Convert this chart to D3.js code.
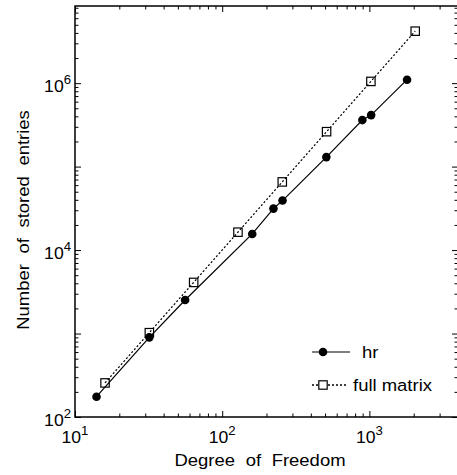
<!DOCTYPE html>
<html>
<head>
<meta charset="utf-8">
<script src="https://cdn.jsdelivr.net/npm/d3@7"></script>
<style>
  body { margin: 0; background: #fff; }
  text { font-family: "Liberation Sans", Arial, sans-serif; fill: #000; }
</style>
</head>
<body>
<svg id="graph" width="457" height="475"></svg>
<script>
// degrees of freedom / stored entries
let hrDof = [14, 32, 56, 160, 223, 257, 510, 896, 1028, 1803]
let hrEntries = [175, 900, 2520, 15600, 31400, 39200, 130000, 361000, 414000, 1100000]
let fullDof = [16, 32, 64, 128, 256, 512, 1024, 2048]
let fullEntries = [256, 1024, 4096, 16384, 65536, 262144, 1048576, 4194304]
let xTickExp = [1, 2, 3]
let yTickExp = [2, 4, 6]
let legendNames = ['hr', 'full matrix']

function chartData() {

//========================= GRAB & SET UP SVG ELEMENT ============================
  let svg = d3.select("#graph"),
      left = 75, right = 458, top = 6, bottom = 417,
      stretch = 1.1   // the original type is a bit wider than Liberation Sans

  let x = d3.scaleLog().domain([10, 4000]).range([left, right]),
      y = d3.scaleLog().domain([100, 8.4e6]).range([bottom, top])

//========================== MINOR / MAJOR TICKS ================================
  let xMajor = [10, 100, 1000]
  let xMinor = []
  for (let d = 10; d < 4000; d *= 10)
    for (let k = 2; k <= 9; k++) if (k * d <= 4000) xMinor.push(k * d)
  let yMajor = [100, 1000, 10000, 100000, 1000000]
  let yMinor = []
  for (let d = 100; d < 8.4e6; d *= 10)
    for (let k = 2; k <= 9; k++) if (k * d <= 8.4e6) yMinor.push(k * d)

  function addAxis(axisFn, scale, tr, vals, size) {
    let g = svg.append("g")
      .attr("transform", tr)
      .call(axisFn(scale).tickValues(vals).tickSizeInner(-size).tickSizeOuter(0).tickFormat(""))
    g.select(".domain").remove()
    g.selectAll("line").attr("stroke", "#000").attr("stroke-width", 1)
  }
  addAxis(d3.axisBottom, x, "translate(0," + bottom + ")", xMajor, 6)
  addAxis(d3.axisBottom, x, "translate(0," + bottom + ")", xMinor, 3.5)
  addAxis(d3.axisTop, x, "translate(0," + top + ")", xMajor, 6)
  addAxis(d3.axisTop, x, "translate(0," + top + ")", xMinor, 3.5)
  addAxis(d3.axisLeft, y, "translate(" + left + ",0)", yMajor, 6)
  addAxis(d3.axisLeft, y, "translate(" + left + ",0)", yMinor, 3.5)
  addAxis(d3.axisRight, y, "translate(" + right + ",0)", yMajor, 6)
  addAxis(d3.axisRight, y, "translate(" + right + ",0)", yMinor, 3.5)

  svg.append("rect")
    .attr("x", left).attr("y", top)
    .attr("width", right - left).attr("height", bottom - top)
    .attr("fill", "none").attr("stroke", "#000").attr("stroke-width", 1.5)

  // text helper: place at (tx, ty), optionally rotated, widened a little
  function label(tx, ty, rot, anchor, size) {
    return svg.append("text")
      .attr("transform", "translate(" + tx + "," + ty + ")" + (rot ? " rotate(" + rot + ")" : "") + " scale(" + stretch + ",1)")
      .attr("text-anchor", anchor)
      .style("font-size", size + "px")
  }

//========================== TICK LABELS (10^n) =================================
  xTickExp.forEach(function(e) {
    let t = label(x(Math.pow(10, e)), 443, 0, "middle", 16)
    t.append("tspan").text("10")
    t.append("tspan").attr("dy", -8).style("font-size", "12px").text(e)
  })
  yTickExp.forEach(function(e) {
    let t = label(71, y(Math.pow(10, e)) + 8.5, 0, "end", 16)
    t.append("tspan").text("10")
    t.append("tspan").attr("dy", -8).style("font-size", "12px").text(e)
  })

//============================= AXIS TITLES =====================================
  label(260, 466, 0, "middle", 16.8).style("word-spacing", "5px").text("Degree of Freedom")
  label(28.5, 220, -90, "middle", 16.8).style("word-spacing", "5px").text("Number of stored entries")

//============================= SET UP LINES ====================================
  let line = d3.line()
    .x(function(d) { return x(d[0]) })
    .y(function(d) { return y(d[1]) })

  let hr = hrDof.map(function(d, i) { return [d, hrEntries[i]] })
  let full = fullDof.map(function(d, i) { return [d, fullEntries[i]] })

  svg.append("path")
    .attr("d", line(full))
    .attr("fill", "none").attr("stroke", "#000").attr("stroke-width", 1.3)
    .attr("stroke-dasharray", "2,2")

  svg.append("path")
    .attr("d", line(hr))
    .attr("fill", "none").attr("stroke", "#000").attr("stroke-width", 1.2)

  svg.selectAll(".sq").data(full).enter().append("rect")
    .attr("class", "sq")
    .attr("x", function(d) { return x(d[0]) - 4.2 })
    .attr("y", function(d) { return y(d[1]) - 4.2 })
    .attr("width", 8.4).attr("height", 8.4)
    .attr("fill", "none").attr("stroke", "#000").attr("stroke-width", 1.2)

  svg.selectAll(".dot").data(hr).enter().append("circle")
    .attr("class", "dot")
    .attr("cx", function(d) { return x(d[0]) })
    .attr("cy", function(d) { return y(d[1]) })
    .attr("r", 4.3)
    .attr("fill", "#000")

//============================= LEGEND ==========================================
  svg.append("line").attr("x1", 312).attr("x2", 350).attr("y1", 352).attr("y2", 352)
    .attr("stroke", "#000").attr("stroke-width", 1.2)
  svg.append("circle").attr("cx", 323).attr("cy", 352).attr("r", 4.3).attr("fill", "#000")
  label(362, 358, 0, "start", 16.8).text(legendNames[0])

  svg.append("line").attr("x1", 312).attr("x2", 347).attr("y1", 385).attr("y2", 385)
    .attr("stroke", "#000").attr("stroke-width", 1.3).attr("stroke-dasharray", "2,2")
  svg.append("rect").attr("x", 318.8).attr("y", 380.8).attr("width", 8.4).attr("height", 8.4)
    .attr("fill", "#fff").attr("stroke", "#000").attr("stroke-width", 1.2)
  label(353, 391, 0, "start", 16.8).text(legendNames[1])
}

chartData();
</script>
</body>
</html>
